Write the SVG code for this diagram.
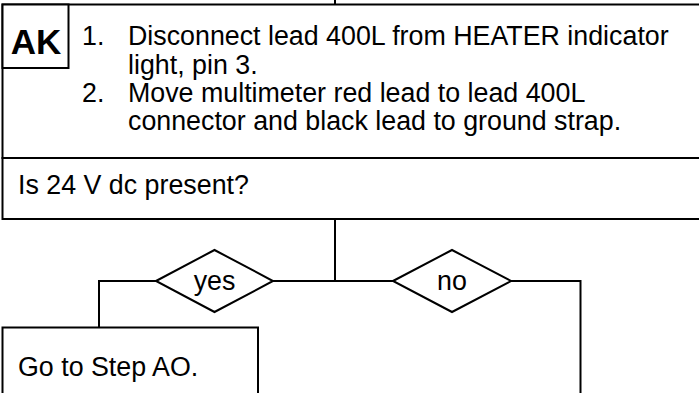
<svg xmlns="http://www.w3.org/2000/svg" width="699" height="393" viewBox="0 0 699 393">
<style>
.box{fill:#fff;stroke:#000;stroke-width:2}
.ln{fill:none;stroke:#000;stroke-width:2}
.t{font-family:"Liberation Sans",Arial,sans-serif;font-size:26.8px;fill:#000}
.b{font-family:"Liberation Sans",Arial,sans-serif;font-size:35px;font-weight:bold;fill:#000}
</style>
<rect width="699" height="393" fill="#fff"/>
<g id="connectors">
<line class="ln" x1="335" y1="0" x2="335" y2="5"/>
<line class="ln" x1="335" y1="219" x2="335" y2="281"/>
<line class="ln" x1="99" y1="281" x2="581" y2="281"/>
<line class="ln" x1="99" y1="280" x2="99" y2="328"/>
<line class="ln" x1="580.5" y1="280" x2="580.5" y2="400"/>
</g>
<g id="stepAK">
<rect class="box" x="2.5" y="4.5" width="720" height="153.5"/>
<rect class="box" x="2.5" y="4.5" width="66" height="63.5"/>
<text class="b" x="36" y="53.5" text-anchor="middle">AK</text>
<text class="t" x="82" y="45">1.</text>
<text class="t" x="128" y="45">Disconnect lead 400L from HEATER indicator</text>
<text class="t" x="128" y="73.5">light, pin 3.</text>
<text class="t" x="82" y="101.5">2.</text>
<text class="t" x="128" y="101.5">Move multimeter red lead to lead 400L</text>
<text class="t" x="128" y="130">connector and black lead to ground strap.</text>
</g>
<g id="question">
<rect class="box" x="2.5" y="158" width="720" height="61"/>
<text class="t" x="18" y="194">Is 24 V dc present?</text>
</g>
<g id="yes">
<polygon class="box" points="156,281 214.5,250 273,281 214.5,312"/>
<text class="t" x="214.5" y="290" text-anchor="middle">yes</text>
</g>
<g id="no">
<polygon class="box" points="393,281 452,250 511,281 452,312"/>
<text class="t" x="452" y="290" text-anchor="middle">no</text>
</g>
<g id="stepAO">
<rect class="box" x="2.5" y="327.5" width="255.5" height="80"/>
<text class="t" x="18" y="376">Go to Step AO.</text>
</g>
</svg>
